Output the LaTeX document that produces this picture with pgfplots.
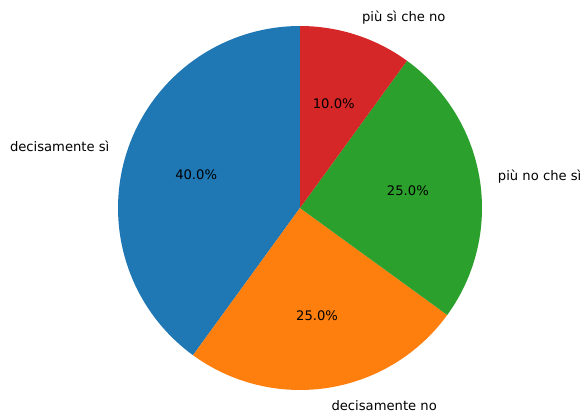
\documentclass[border=0pt]{standalone}
\usepackage{fontspec}
\setmainfont{DejaVu Sans}
\usepackage{pgfplots}
\pgfplotsset{compat=1.18}
\definecolor{c1}{HTML}{1F77B4}
\definecolor{c2}{HTML}{FF7F0E}
\definecolor{c3}{HTML}{2CA02C}
\definecolor{c4}{HTML}{D62728}
\tikzset{lbl/.style={font=\fontsize{13.2}{15}\selectfont, inner sep=0pt}}
% shares (percent), counterclockwise from 90 degrees
\def\va{40}\def\vb{25}\def\vc{25}\def\vd{10}
\pgfmathsetmacro{\aA}{90}
\pgfmathsetmacro{\aB}{\aA+3.6*\va}
\pgfmathsetmacro{\aC}{\aB+3.6*\vb}
\pgfmathsetmacro{\aD}{\aC+3.6*\vc}
\pgfmathsetmacro{\aE}{\aD+3.6*\vd}
\begin{document}
\begin{tikzpicture}
\begin{axis}[hide axis, scale only axis, width=584bp, height=415bp,
  xmin=-1.6484, xmax=1.5604, ymin=-1.1374, ymax=1.1429, clip=false]
\path (rel axis cs:0,0) rectangle (rel axis cs:1,1);
\addplot[fill=c1, draw=none, domain=\aA:\aB, samples=90] ({cos(x)},{sin(x)}) -- (0,0) -- cycle;
\addplot[fill=c2, draw=none, domain=\aB:\aC, samples=60] ({cos(x)},{sin(x)}) -- (0,0) -- cycle;
\addplot[fill=c3, draw=none, domain=\aC:\aD, samples=60] ({cos(x)},{sin(x)}) -- (0,0) -- cycle;
\addplot[fill=c4, draw=none, domain=\aD:\aE, samples=30] ({cos(x)},{sin(x)}) -- (0,0) -- cycle;
\pgfmathsetmacro{\mA}{(\aA+\aB)/2}
\pgfmathsetmacro{\mB}{(\aB+\aC)/2}
\pgfmathsetmacro{\mC}{(\aC+\aD)/2}
\pgfmathsetmacro{\mD}{(\aD+\aE)/2}
\node[lbl] at ({0.6*cos(\mA)},{0.6*sin(\mA)}) {40.0\%};
\node[lbl] at ({0.6*cos(\mB)},{0.6*sin(\mB)}) {25.0\%};
\node[lbl] at ({0.6*cos(\mC)},{0.6*sin(\mC)}) {25.0\%};
\node[lbl] at ({0.6*cos(\mD)},{0.6*sin(\mD)}) {10.0\%};
\node[lbl,anchor=east] at ({1.1*cos(\mA)},{1.1*sin(\mA)}) {decisamente sì};
\node[lbl,anchor=west] at ({1.1*cos(\mB)},{1.1*sin(\mB)}) {decisamente no};
\node[lbl,anchor=west] at ({1.1*cos(\mC)},{1.1*sin(\mC)}) {più no che sì};
\node[lbl,anchor=west] at ({1.1*cos(\mD)},{1.1*sin(\mD)}) {più sì che no};
\end{axis}
\end{tikzpicture}
\end{document}
